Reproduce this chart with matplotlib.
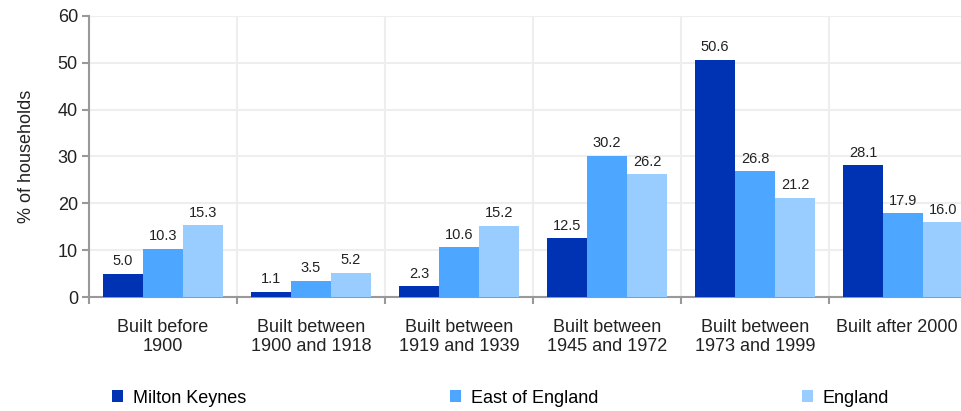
import numpy as np
import matplotlib
matplotlib.use("Agg")
import matplotlib.pyplot as plt
import matplotlib.transforms as mtransforms

plt.rcParams['font.family'] = ['Liberation Sans', 'DejaVu Sans']

categories = ["Built before\n1900", "Built between\n1900 and 1918", "Built between\n1919 and 1939",
              "Built between\n1945 and 1972", "Built between\n1973 and 1999", "Built after 2000"]
milton_keynes = [5.0, 1.1, 2.3, 12.5, 50.6, 28.1]
east_of_england = [10.3, 3.5, 10.6, 30.2, 26.8, 17.9]
england = [15.3, 5.2, 15.2, 26.2, 21.2, 16.0]

series = [("Milton Keynes", milton_keynes, "#0033b4"),
          ("East of England", east_of_england, "#4da6ff"),
          ("England", england, "#99ccff")]

fig = plt.figure(figsize=(9.62, 4.11), dpi=100)
ax = fig.add_axes([89 / 962, 114 / 411, 888 / 962, 281 / 411])

x = np.arange(len(categories))
w = 0.27
for i, (name, vals, col) in enumerate(series):
    pos = x + (i - 1) * w
    bars = ax.bar(pos, vals, width=w, color=col, label=name, zorder=3)
    for b, v in zip(bars, vals):
        ax.annotate(f"{v:.1f}", (b.get_x() + b.get_width() / 2, v), xytext=(0, 4),
                    textcoords="offset points", ha="center", va="bottom", fontsize=10.5, color="#222222")

ax.set_xlim(-0.5, len(categories) - 0.5)
ax.set_ylim(0, 60)
ax.set_yticks(range(0, 61, 10))
ax.tick_params(axis="y", labelsize=13, length=5, color="#999999", width=1.5, pad=3, labelcolor="#222222")

ax.set_xticks(x)
ax.set_xticklabels(categories, fontsize=13, linespacing=1.15, color="#222222")
ax.tick_params(axis="x", which="major", length=0, pad=16)
ax.set_xticks(np.arange(len(categories) + 1) - 0.5, minor=True)
ax.tick_params(axis="x", which="minor", length=5, color="#999999", width=1.5)
# last label is nudged left so it stays inside the figure, as in the reference
last = ax.get_xticklabels()[-1]
last.set_transform(last.get_transform() + mtransforms.ScaledTranslation(-6 / 100, 0, fig.dpi_scale_trans))

ax.grid(axis="y", color="#eeeeee", linewidth=1.5, zorder=0)
ax.grid(axis="x", which="minor", color="#eeeeee", linewidth=1.5, zorder=0)

for s in ["top", "right"]:
    ax.spines[s].set_visible(False)
for s in ["left", "bottom"]:
    ax.spines[s].set_color("#999999")
    ax.spines[s].set_linewidth(1.5)

ax.set_ylabel("% of households", fontsize=13, labelpad=16, color="#222222")

fig.legend(loc="center left", bbox_to_anchor=(112 / 962, 13 / 411), ncol=3, frameon=False,
           fontsize=13, handlelength=0.6, handleheight=0.6, handletextpad=0.55,
           columnspacing=11.3, borderaxespad=0, borderpad=0)

fig.savefig("out.png", dpi=100)
